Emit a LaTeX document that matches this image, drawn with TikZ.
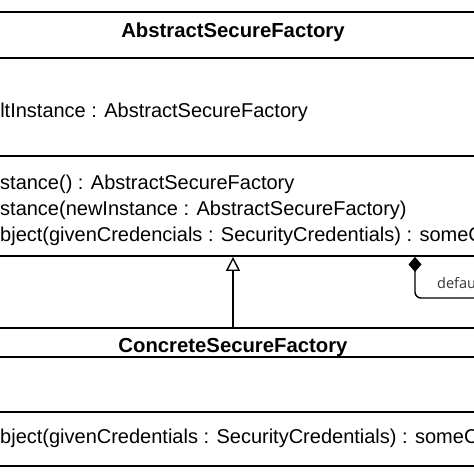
\documentclass[tikz,border=0pt]{standalone}
\usepackage{fontspec}
\setmainfont{Liberation Sans}
\newfontfamily\rolefont{Open Sans}
\usetikzlibrary{arrows.meta}

\tikzset{classbox/.style={draw, line width=1.8pt, minimum width=800pt, inner sep=0pt},
         classname/.style={font=\bfseries\fontsize{20.3}{24}\selectfont, inner sep=0pt, anchor=base},
         member/.style={font=\fontsize{20}{24}\selectfont, inner sep=0pt, anchor=base west},
         rolelabel/.style={font=\rolefont\fontsize{14.5}{17}\selectfont, text=black!80, inner sep=0pt, anchor=base west},
         inherits/.style={line width=1.4pt, -{Triangle[open, length=14pt, width=14pt]}},
         composite/.style={line width=1.4pt, {Diamond[length=15pt, width=13pt]}-, rounded corners=6pt}}

\begin{document}
\begin{tikzpicture}[x=1pt, y=-1pt]
  \useasboundingbox (0,0) rectangle (474,474);
  \clip (0,0) rectangle (474,474);

  % AbstractSecureFactory
  \node[classbox, minimum height=244pt] (abstract) at (233,134) {};
  \draw[line width=1.8pt] (-200,58) -- (700,58)
                          (-200,156) -- (700,156);
  \node[classname] (abstract-name) at (233,37) {AbstractSecureFactory};
  \node[member, anchor=base east] (abstract-attr) at (308,117) {ltInstance : AbstractSecureFactory};
  \node[member] (abstract-get) at (0,189) {stance() : AbstractSecureFactory};
  \node[member] (abstract-set) at (0,215) {stance(newInstance : AbstractSecureFactory)};
  \node[member] (abstract-create) at (0,241) {bject(givenCredencials : SecurityCredentials) : someC};

  % ConcreteSecureFactory
  \node[classbox, minimum height=138pt] (concrete) at (233,397) {};
  \draw[line width=1.8pt] (-200,357) -- (700,357)
                          (-200,412) -- (700,412);
  \node[classname] (concrete-name) at (233,352) {ConcreteSecureFactory};
  \node[member] (concrete-create) at (0,443) {bject(givenCredentials : SecurityCredentials) : someC};

  % relations
  \draw[inherits] (concrete.north) -- (abstract.south);
  \coordinate (deflt-bend) at (415,298);
  \coordinate (deflt-end) at (500,298);
  \draw[composite] (abstract.south -| deflt-bend) |- (deflt-end);
  \node[rolelabel] (deflt-label) at (437,288) {defau};
\end{tikzpicture}
\end{document}
